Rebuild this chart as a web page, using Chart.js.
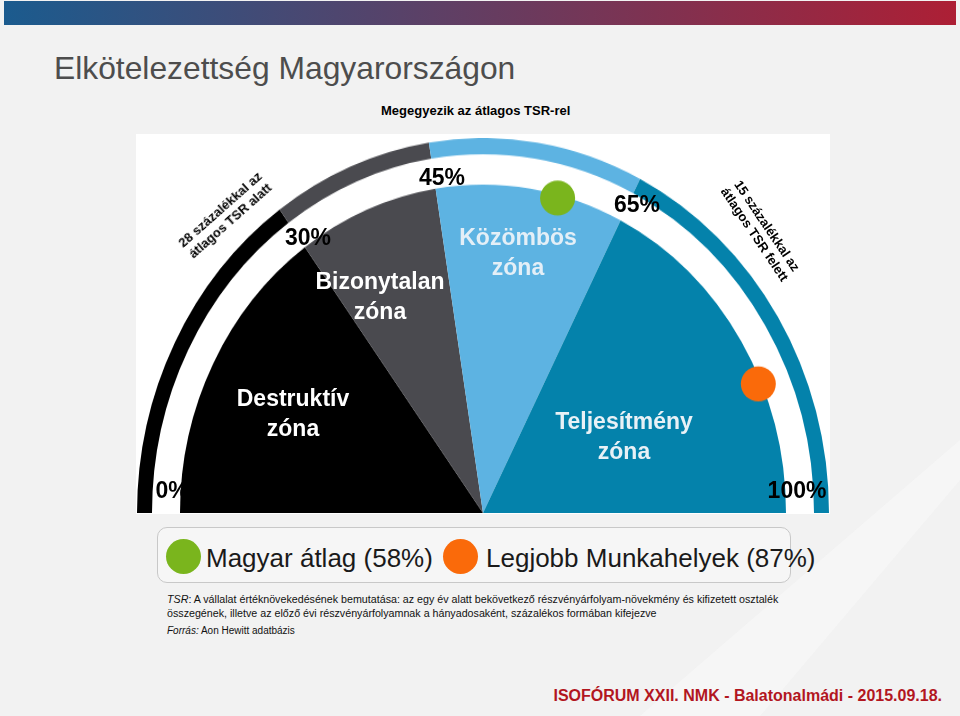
<!DOCTYPE html>
<html lang="hu">
<head>
<meta charset="utf-8">
<script src="https://cdn.jsdelivr.net/npm/chart.js@4.4.1/dist/chart.umd.min.js"></script>
<style>
  html, body { margin: 0; padding: 0; }
  body { width: 960px; height: 716px; background: #f2f2f2; position: relative; overflow: hidden;
         font-family: "Liberation Sans", Arial, Helvetica, sans-serif; }
  .abs { position: absolute; }
  .topbar { left: 4px; top: 1px; width: 952px; height: 24px; background: linear-gradient(to right, #1b5b8e, #ad1f35); }
  .title { left: 54px; top: 50px; font-size: 31.8px; color: #4d4d4d; white-space: nowrap; }
  .sub { left: 381px; top: 103px; font-size: 13px; font-weight: bold; color: #000; white-space: nowrap; }
  .panel { left: 136px; top: 134px; width: 694px; height: 380px; background: #fff; }
  #wrap { left: 137px; top: 167px; width: 692px; height: 346px; transform: scaleY(1.0838); transform-origin: 50% 100%; }
  .lbl { position: absolute; transform: translate(-50%, -50%) scaleY(1.08); white-space: nowrap; text-align: center; font-weight: bold; }
  .pct { font-size: 23px; color: #000; }
  .zone { font-size: 23px; line-height: 28px; }
  .note { font-size: 13px; line-height: 15px; color: #000; }
  .legend { left: 157px; top: 527px; width: 632px; height: 54px; border: 1px solid #c8c8c8; border-radius: 10px; background: #f6f6f6; }
  .dot { position: absolute; width: 35px; height: 35px; border-radius: 50%; }
  .ltxt { position: absolute; font-size: 26px; color: #1a1a1a; white-space: nowrap; transform: translateY(-50%); }
  .foot { left: 167px; top: 592px; font-size: 10.7px; line-height: 14px; color: #111; white-space: nowrap; }
  .src { left: 167px; top: 625px; font-size: 10px; color: #111; }
  .brand { right: 18px; top: 687px; font-size: 16px; font-weight: bold; color: #b2161f; white-space: nowrap; }
</style>
</head>
<body>
<svg class="abs" style="left:0;top:0" width="960" height="716">
  <polygon points="640,716 760,716 960,480 960,440" fill="#f8f8f8" opacity="0.7"/>
</svg>
<div class="abs topbar"></div>
<div class="abs title">Elkötelezettség Magyarországon</div>
<div class="abs sub">Megegyezik az átlagos TSR-rel</div>
<div class="abs panel"></div>
<div class="abs" id="wrap"><canvas id="gauge" width="692" height="346"></canvas></div>
<div id="labels"></div>
<div class="abs legend"></div>
<div id="legend"></div>
<div class="abs foot"><i>TSR</i>: A vállalat értéknövekedésének bemutatása: az egy év alatt bekövetkező részvényárfolyam-növekmény és kifizetett osztalék<br>összegének, illetve az előző évi részvényárfolyamnak a hányadosaként, százalékos formában kifejezve</div>
<div class="abs src"><i>Forrás:</i> Aon Hewitt adatbázis</div>
<div class="abs brand">ISOFÓRUM XXII. NMK - Balatonalmádi - 2015.09.18.</div>

<script>
// zones of the gauge (percent boundaries)
const zoneNames = ['Destruktív zóna', 'Bizonytalan zóna', 'Közömbös zóna', 'Teljesítmény zóna'];
const zoneBounds = [0, 30, 45, 65, 100];
const zoneColors = ['#000000', '#4a4a4f', '#5db3e2', '#0482ab'];

// markers
const markerNames = ['Magyar átlag', 'Legjobb Munkahelyek'];
const markerValues = [58, 87];
const markerColors = ['#7ab51d', '#fa6a0a'];

// notes beside the outer ring
const rangeNotes = [['28 százalékkal az', 'átlagos TSR alatt'], ['15 százalékkal az', 'átlagos TSR felett']];

const zoneSizes = zoneBounds.slice(1).map((b, i) => b - zoneBounds[i]);
const stretch = 1.0838;

// where the html labels go (page px)
const boundPos = [[172, 490], [308, 237], [442, 177], [637, 204], [797, 490]];
const zonePos = [[293, 412], [380, 295], [518, 251], [624, 435]];
const zoneTextColors = ['#ffffff', '#ffffff', '#e4eff7', '#e8f1f6'];
const notePos = [[225, 215, -41.5], [761, 230, 56]];

const markerDots = {
  id: 'markerDots',
  afterDatasetsDraw(chart) {
    const meta = chart.getDatasetMeta(2);
    const first = meta.data[0];
    const ctx = chart.ctx;
    const span = Math.PI * chart.options.circumference / 180;
    const total = zoneSizes.reduce((a, b) => a + b, 0);
    markerValues.forEach((v, i) => {
      const a = first.startAngle + span * v / total;
      const r = first.outerRadius - 3;
      ctx.save();
      ctx.fillStyle = markerColors[i];
      ctx.beginPath();
      ctx.ellipse(first.x + r * Math.cos(a), first.y + r * Math.sin(a), 17.5, 17.5 / stretch, 0, 0, Math.PI * 2);
      ctx.fill();
      ctx.restore();
    });
  }
};

new Chart(document.getElementById('gauge'), {
  type: 'doughnut',
  data: {
    labels: zoneNames,
    datasets: [
      { data: zoneSizes, backgroundColor: zoneColors, weight: 15 },
      { data: zoneSizes, backgroundColor: 'rgba(0,0,0,0)', weight: 28 },
      { data: zoneSizes, backgroundColor: zoneColors, weight: 303 }
    ]
  },
  options: {
    responsive: false,
    animation: false,
    events: [],
    rotation: -90,
    circumference: 180,
    cutout: 0,
    borderWidth: 0,
    hoverOffset: 0,
    layout: { padding: 0 },
    plugins: {
      legend: { display: false },
      tooltip: { enabled: false }
    }
  },
  plugins: [markerDots]
});

// labels on the gauge
const lab = document.getElementById('labels');
zoneBounds.forEach((b, i) => {
  const d = document.createElement('div');
  d.className = 'lbl pct';
  d.style.left = boundPos[i][0] + 'px';
  d.style.top = boundPos[i][1] + 'px';
  d.textContent = b + '%';
  lab.appendChild(d);
});
zoneNames.forEach((n, i) => {
  const d = document.createElement('div');
  d.className = 'lbl zone';
  d.style.left = zonePos[i][0] + 'px';
  d.style.top = zonePos[i][1] + 'px';
  d.style.color = zoneTextColors[i];
  d.innerHTML = n.split(' ').join('<br>');
  lab.appendChild(d);
});
rangeNotes.forEach((n, i) => {
  const d = document.createElement('div');
  d.className = 'lbl note';
  d.style.left = notePos[i][0] + 'px';
  d.style.top = notePos[i][1] + 'px';
  d.style.transform = 'translate(-50%, -50%) rotate(' + notePos[i][2] + 'deg)';
  d.innerHTML = n.join('<br>');
  lab.appendChild(d);
});

// legend
const leg = document.getElementById('legend');
const legPos = [[166, 206], [443, 486]];
markerNames.forEach((n, i) => {
  const dot = document.createElement('div');
  dot.className = 'dot';
  dot.style.left = legPos[i][0] + 'px';
  dot.style.top = '539px';
  dot.style.background = markerColors[i];
  leg.appendChild(dot);
  const t = document.createElement('div');
  t.className = 'ltxt';
  t.style.left = legPos[i][1] + 'px';
  t.style.top = '558px';
  t.textContent = n + ' (' + markerValues[i] + '%)';
  leg.appendChild(t);
});
</script>
</body>
</html>
